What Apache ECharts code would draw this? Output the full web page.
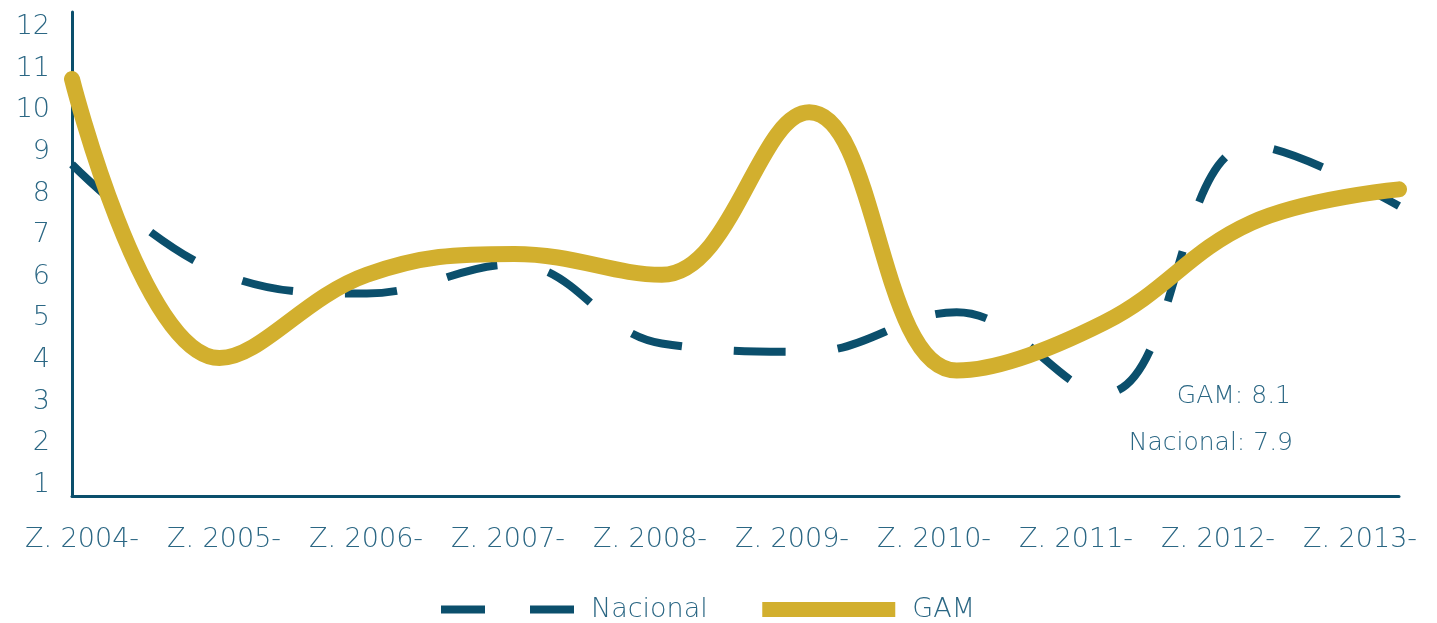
<html>
<head>
    <meta charset="UTF-8">
    <title>Nacional vs GAM</title>
    <script src="https://cdn.jsdelivr.net/npm/echarts@6/dist/echarts.min.js"></script>
    <style>
        body { margin: 0; background: #fff; }
        #chart { width: 1437px; height: 623px; }
    </style>
</head>
<body>
    <div id="chart"></div>
    <script>
        // data
        var categories = ['Z. 2004-', 'Z. 2005-', 'Z. 2006-', 'Z. 2007-', 'Z. 2008-',
                          'Z. 2009-', 'Z. 2010-', 'Z. 2011-', 'Z. 2012-', 'Z. 2013-'];
        var nacional = [8.7, 6.1, 5.6, 6.3, 4.4, 4.2, 5.15, 3.2, 9.15, 7.7];
        var gam = [10.75, 4.05, 6.05, 6.55, 6.05, 9.95, 3.75, 4.9, 7.3, 8.1];
        var lastValues = ['GAM: 8.1', 'Nacional: 7.9'];

        var teal = '#0b4f6c';
        var gold = '#d2af2e';
        var textColor = '#2b6784';
        var font = 'DejaVu Sans';

        var chart = echarts.init(document.getElementById('chart'), null, { renderer: 'canvas' });

        chart.setOption({
            animation: false,
            grid: [
                { left: 72, right: 38, top: 12, bottom: 127 },
                { left: 11, width: 1420, top: 12, bottom: 127 }   // only carries the x labels
            ],
            xAxis: [
                {
                    type: 'category', gridIndex: 0, data: categories, boundaryGap: false,
                    axisLine: { lineStyle: { color: teal, width: 3 } },
                    axisTick: { show: false }, axisLabel: { show: false }, splitLine: { show: false }
                },
                {
                    type: 'category', gridIndex: 1, data: categories, boundaryGap: true,
                    axisLine: { show: false }, axisTick: { show: false }, splitLine: { show: false },
                    axisLabel: { interval: 0, color: textColor, fontFamily: font, fontSize: 27, fontWeight: 200, margin: 30 }
                }
            ],
            yAxis: [
                {
                    type: 'value', gridIndex: 0, min: 0.736, max: 12.36, splitNumber: 12,
                    axisLine: { show: true, lineStyle: { color: teal, width: 3 } },
                    axisTick: { show: false }, splitLine: { show: false },
                    axisLabel: {
                        color: textColor, fontFamily: font, fontSize: 27, fontWeight: 200, margin: 22,
                        showMinLabel: false, showMaxLabel: false,
                        formatter: function (v) { return Math.abs(v - Math.round(v)) < 1e-6 ? String(Math.round(v)) : ''; }
                    }
                },
                { type: 'value', gridIndex: 1, show: false }
            ],
            legend: {
                top: 596, left: 437, padding: 0, itemGap: 47, itemWidth: 133, itemHeight: 16,
                textStyle: { color: textColor, fontFamily: font, fontSize: 27, fontWeight: 200, padding: [0, 0, 0, 12] },
                data: [
                    {
                        name: 'Nacional',
                        lineStyle: { color: teal, width: 8, type: [44, 45] },
                        itemStyle: { color: 'rgba(0,0,0,0)', borderWidth: 0 }
                    },
                    {
                        name: 'GAM',
                        lineStyle: { color: gold, width: 15, cap: 'butt' },
                        itemStyle: { color: 'rgba(0,0,0,0)', borderWidth: 0 }
                    }
                ]
            },
            graphic: [
                { type: 'text', right: 146, top: 384, style: { text: lastValues[0], fill: textColor, font: '200 25px "DejaVu Sans"' } },
                { type: 'text', right: 144, top: 431, style: { text: lastValues[1], fill: textColor, font: '200 25px "DejaVu Sans"' } }
            ],
            series: [
                {
                    name: 'Nacional', type: 'line', xAxisIndex: 0, yAxisIndex: 0, data: nacional,
                    smooth: 0.4, symbol: 'none',
                    lineStyle: { color: teal, width: 8, type: [52, 52], cap: 'butt' },
                    itemStyle: { color: teal }
                },
                {
                    name: 'GAM', type: 'line', xAxisIndex: 0, yAxisIndex: 0, data: gam,
                    smooth: 0.4, symbol: 'none',
                    lineStyle: { color: gold, width: 16, cap: 'round', join: 'round' },
                    itemStyle: { color: gold }
                }
            ]
        });
    </script>
</body>
</html>
